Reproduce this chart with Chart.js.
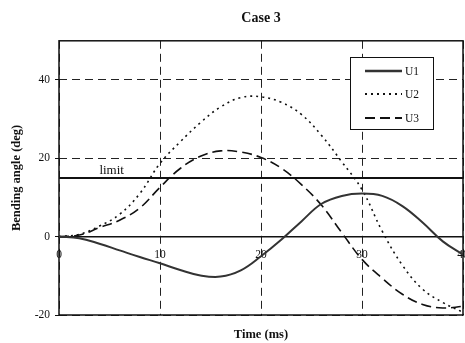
<!DOCTYPE html>
<html lang="en">
<head>
  <meta charset="UTF-8">
  <title>Case 3</title>
  <script src="https://cdn.jsdelivr.net/npm/chart.js"></script>
  <style>
    body { margin: 0; background: #fff; }
    canvas { display: block; }
  </style>
</head>
<body>
  <canvas id="chart" width="465" height="343"></canvas>

  <script>
    // Data (time in ms, angle in deg)
    const times = [0, 2, 4, 6, 8, 10, 12, 14, 16, 18, 20, 22, 24, 26, 28, 30, 32, 34, 36, 38, 40];
    const u1 = [0, -0.4, -1.8, -3.5, -5.2, -6.8, -8.5, -9.9, -10.2, -8.6, -5.0, -0.8, 3.9, 8.4, 10.4, 11.0, 10.4, 7.8, 3.6, -1.2, -4.6];
    const u2 = [0, 0.6, 2.7, 5.7, 11.0, 18.7, 24.2, 29.1, 33.1, 35.5, 35.7, 34.3, 31.2, 25.8, 19.1, 12.0, 1.4, -7.3, -13.4, -16.8, -19.3];
    const u3 = [0, 0.4, 2.3, 4.2, 7.3, 12.6, 17.4, 20.5, 21.9, 21.6, 20.2, 17.5, 13.3, 8.0, 1.0, -5.8, -10.6, -14.7, -17.3, -18.2, -17.8];
    const limitValue = 15;
    const xTicks = [0, 10, 20, 30, 40];
    const yTicks = [-20, 0, 20, 40];

    const serif = "'Liberation Serif', 'Times New Roman', serif";
    const toPoints = vals => vals.map((v, i) => ({ x: times[i], y: v }));

    const series = [
      { label: 'U1', data: u1, color: '#333', width: 2, dash: [] },
      { label: 'U2', data: u2, color: '#111', width: 1.6, dash: [2, 4] },
      { label: 'U3', data: u3, color: '#111', width: 1.6, dash: [10, 5] }
    ];

    // frame, limit label and the boxed legend
    const extras = {
      id: 'extras',
      beforeDatasetsDraw(chart) {
        const { ctx, chartArea: a } = chart;
        ctx.save();
        ctx.strokeStyle = '#111';
        ctx.lineWidth = 1.5;
        ctx.strokeRect(a.left, a.top, a.right - a.left, a.bottom - a.top);
        ctx.restore();
      },
      afterDatasetsDraw(chart) {
        const { ctx, scales } = chart;
        ctx.save();
        ctx.fillStyle = '#111';
        ctx.font = '13px ' + serif;
        ctx.textBaseline = 'alphabetic';
        ctx.fillText('limit', scales.x.getPixelForValue(4), scales.y.getPixelForValue(limitValue) - 4);

        // legend box
        const bx = 350, by = 57, bw = 83, bh = 72;
        ctx.fillStyle = '#fff';
        ctx.fillRect(bx, by, bw, bh);
        ctx.strokeStyle = '#111';
        ctx.lineWidth = 1;
        ctx.strokeRect(bx + 0.5, by + 0.5, bw, bh);
        const rows = [71, 94, 118];
        ctx.font = '11.5px ' + serif;
        ctx.textBaseline = 'middle';
        series.forEach((s, i) => {
          ctx.strokeStyle = s.color;
          ctx.lineWidth = s.width + 0.4;
          ctx.setLineDash(s.dash);
          ctx.beginPath();
          ctx.moveTo(365, rows[i]);
          ctx.lineTo(402, rows[i]);
          ctx.stroke();
          ctx.setLineDash([]);
          ctx.fillStyle = '#111';
          ctx.fillText(s.label, 405, rows[i] + 1);
        });
        ctx.restore();
      }
    };

    const datasets = series.map(s => ({
      label: s.label,
      data: toPoints(s.data),
      borderColor: s.color,
      borderWidth: s.width,
      borderDash: s.dash,
      pointRadius: 0,
      fill: false,
      tension: 0.4
    }));
    datasets.push({
      label: 'limit',
      data: [{ x: times[0], y: limitValue }, { x: times[times.length - 1], y: limitValue }],
      borderColor: '#111',
      borderWidth: 2,
      pointRadius: 0,
      fill: false
    });

    new Chart(document.getElementById('chart'), {
      type: 'line',
      data: { datasets },
      options: {
        responsive: false,
        animation: false,
        layout: { padding: { left: 0, right: 2, top: 0, bottom: 0 } },
        plugins: {
          legend: { display: false },
          tooltip: { enabled: false },
          title: {
            display: true,
            text: 'Case 3',
            fullSize: false,
            color: '#111',
            font: { family: serif, size: 14, weight: 'bold' },
            padding: { top: 10, bottom: 14 }
          }
        },
        scales: {
          x: {
            type: 'linear',
            position: 'bottom',
            min: 0,
            max: 40,
            afterBuildTicks: s => { s.ticks = xTicks.map(v => ({ value: v })); },
            afterFit: s => { s.height = 28; },
            ticks: { display: false },
            grid: { color: '#222', lineWidth: 1, drawTicks: false },
            border: { display: false, dash: [8, 5] },
            title: {
              display: true,
              text: 'Time (ms)',
              color: '#111',
              font: { family: serif, size: 12.5, weight: 'bold' },
              padding: { top: 0, bottom: 1 }
            }
          },
          x2: {
            type: 'linear',
            position: { y: 0 },
            min: 0,
            max: 40,
            afterBuildTicks: s => { s.ticks = xTicks.map(v => ({ value: v })); },
            afterFit: s => { s.paddingLeft = 0; s.paddingRight = 0; },
            ticks: { color: '#111', font: { family: serif, size: 11.5 }, padding: 3 },
            grid: { display: false, tickLength: 8 },
            border: { display: true, color: '#111', width: 1.5 }
          },
          y: {
            type: 'linear',
            position: 'left',
            min: -20,
            max: 50,
            afterBuildTicks: s => { s.ticks = yTicks.map(v => ({ value: v })); },
            afterFit: s => { s.width = 59; },
            ticks: { color: '#111', font: { family: serif, size: 11.5 }, padding: 5 },
            grid: { color: '#222', lineWidth: 1, tickLength: 4, tickColor: '#111' },
            border: { display: false, dash: [8, 5] },
            title: {
              display: true,
              text: 'Bending angle (deg)',
              color: '#111',
              font: { family: serif, size: 12.5, weight: 'bold' },
              padding: { top: 9, bottom: 0 }
            }
          }
        }
      },
      plugins: [extras]
    });
  </script>
</body>
</html>
